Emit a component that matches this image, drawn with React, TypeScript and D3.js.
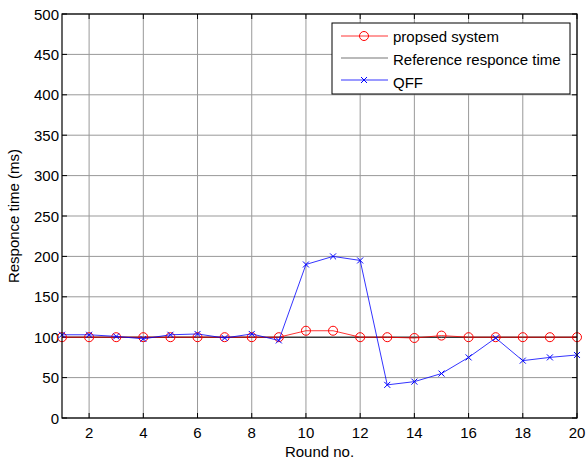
import React from "react";
import * as d3 from "d3";

const rounds = d3.range(1, 21);
const proposed = [100, 100, 100, 100, 100, 100, 100, 100, 100, 108, 108, 100, 100, 99, 102, 100, 100, 100, 100, 100];
const reference = [100, 100, 100, 100, 100, 100, 100, 100, 100, 100, 100, 100, 100, 100, 100, 100, 100, 100, 100, 100];
const qff = [103, 103, 101, 98, 103, 104, 99, 104, 96, 190, 200, 195, 41, 45, 55, 75, 99, 71, 75, 78];
const xTicks = [2, 4, 6, 8, 10, 12, 14, 16, 18, 20];
const yTicks = [0, 50, 100, 150, 200, 250, 300, 350, 400, 450, 500];

const W = 586, H = 462;
const L = 62, R = 577, T = 14, B = 418;
const font = "'Liberation Sans', Arial, sans-serif";
const FS = 15;

export default function App() {
  const x = d3.scaleLinear().domain([1, 20]).range([L, R]);
  const y = d3.scaleLinear().domain([0, 500]).range([B, T]);
  const line = d3.line<number>().x((_, i) => x(rounds[i])).y((d) => y(d));
  const cross = (cx: number, cy: number, k: string) => (
    <path key={k} d={`M${cx - 3},${cy - 3}L${cx + 3},${cy + 3}M${cx - 3},${cy + 3}L${cx + 3},${cy - 3}`} stroke="#0000ff" strokeWidth={1} />
  );
  const lx = 332, ly = 23, lw = 238, lh = 71;
  return (
    <svg width={W} height={H} style={{ position: "absolute", left: 0, top: 0 }} fontFamily={font}>
      <rect x={0} y={0} width={W} height={H} fill="#fff" />
      {xTicks.map((t) => (
        <line key={"gx" + t} x1={x(t)} x2={x(t)} y1={T} y2={B} stroke="#999" strokeWidth={1} />
      ))}
      {yTicks.map((t) => (
        <line key={"gy" + t} x1={L} x2={R} y1={y(t)} y2={y(t)} stroke="#999" strokeWidth={1} />
      ))}
      {xTicks.map((t) => (
        <g key={"tx" + t}>
          <line x1={x(t)} x2={x(t)} y1={B} y2={B - 5} stroke="#000" />
          <line x1={x(t)} x2={x(t)} y1={T} y2={T + 5} stroke="#000" />
          <text x={x(t)} y={B + 20} fontSize={FS} textAnchor="middle">{t}</text>
        </g>
      ))}
      {yTicks.map((t) => (
        <g key={"ty" + t}>
          <line x1={L} x2={L + 5} y1={y(t)} y2={y(t)} stroke="#000" />
          <line x1={R} x2={R - 5} y1={y(t)} y2={y(t)} stroke="#000" />
          <text x={L - 3} y={y(t) + 5.5} fontSize={FS} textAnchor="end">{t}</text>
        </g>
      ))}
      <path d={line(reference) || ""} fill="none" stroke="#000" strokeWidth={1} />
      <path d={line(proposed) || ""} fill="none" stroke="#ff0000" strokeWidth={0.8} />
      {proposed.map((v, i) => (
        <circle key={"p" + i} cx={x(rounds[i])} cy={y(v)} r={4.5} fill="none" stroke="#ff0000" strokeWidth={1} />
      ))}
      <path d={line(qff) || ""} fill="none" stroke="#0000ff" strokeWidth={0.8} />
      {qff.map((v, i) => cross(x(rounds[i]), y(v), "q" + i))}
      <rect x={L} y={T} width={R - L} height={B - T} fill="none" stroke="#000" strokeWidth={1.2} />
      <rect x={lx} y={ly} width={lw} height={lh} fill="#fff" stroke="#000" strokeWidth={1} />
      <line x1={lx + 9} x2={lx + 56} y1={ly + 13} y2={ly + 13} stroke="#ff0000" strokeWidth={0.8} />
      <circle cx={lx + 32} cy={ly + 13} r={4.5} fill="none" stroke="#ff0000" />
      <text x={lx + 61} y={ly + 19} fontSize={FS}>propsed system</text>
      <line x1={lx + 9} x2={lx + 56} y1={ly + 35} y2={ly + 35} stroke="#777" strokeWidth={1.2} />
      <text x={lx + 61} y={ly + 42} fontSize={FS}>Reference responce time</text>
      <line x1={lx + 9} x2={lx + 56} y1={ly + 57} y2={ly + 57} stroke="#0000ff" strokeWidth={0.8} />
      {cross(lx + 32, ly + 57, "lq")}
      <text x={lx + 61} y={ly + 64.5} fontSize={FS}>QFF</text>
      <text x={(L + R) / 2} y={457} fontSize={FS} textAnchor="middle">Round no.</text>
      <text transform={`translate(19,${(T + B) / 2}) rotate(-90)`} fontSize={FS} textAnchor="middle">Responce time (ms)</text>
    </svg>
  );
}
